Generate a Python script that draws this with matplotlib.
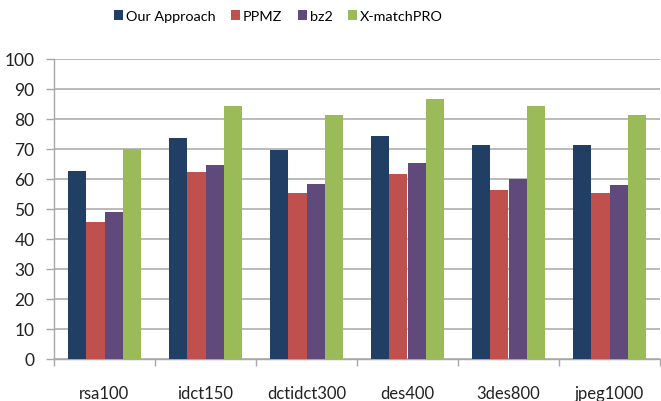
import matplotlib
matplotlib.use("Agg")
import matplotlib.pyplot as plt
import numpy as np

categories = ["rsa100", "idct150", "dctidct300", "des400", "3des800", "jpeg1000"]
series_names = ["Our Approach", "PPMZ", "bz2", "X-matchPRO"]
our_approach = [62.7, 73.8, 69.8, 74.2, 71.2, 71.4]
ppmz = [45.8, 62.2, 55.2, 61.8, 56.2, 55.2]
bz2 = [49.0, 64.7, 58.4, 65.2, 59.9, 57.9]
xmatchpro = [70.0, 84.3, 81.3, 86.8, 84.2, 81.4]
y_ticks = [0, 10, 20, 30, 40, 50, 60, 70, 80, 90, 100]

colors = ["#213F65", "#C0504D", "#604A7B", "#9BBB59"]
series = [our_approach, ppmz, bz2, xmatchpro]

plt.rcParams["font.family"] = ["Lato", "DejaVu Sans"]

W, H = 661, 402
fig = plt.figure(figsize=(W / 100, H / 100), dpi=100)
ax = fig.add_axes([54 / W, (H - 360) / H, (660 - 54) / W, 300 / H])

x = np.arange(len(categories))
bar_w = 0.182
offsets = (np.arange(4) - 1.5) * bar_w
for vals, name, c, off in zip(series, series_names, colors, offsets):
    ax.bar(x + off, vals, width=bar_w, color=c, label=name, zorder=3, linewidth=0)

ax.set_xlim(-0.5, len(categories) - 0.5)
ax.set_ylim(0, 100)
ax.set_yticks(y_ticks)
ax.set_yticklabels([str(t) for t in y_ticks], fontsize=12.5, color="#222222")
ax.yaxis.grid(True, color="#B4B4B4", linewidth=1.3, zorder=0)
ax.set_axisbelow(True)

# category labels centred, tick marks on the boundaries
ax.set_xticks(x)
ax.set_xticklabels(categories, fontsize=12, color="#222222")
ax.tick_params(axis="x", which="major", length=0, pad=19)
ax.set_xticks(np.arange(len(categories) + 1) - 0.5, minor=True)
ax.tick_params(axis="x", which="minor", length=5, width=1, color="#A8A8A8")
ax.tick_params(axis="y", length=6, width=1, color="#A8A8A8", pad=8)

for s in ["top", "right"]:
    ax.spines[s].set_visible(False)
for s in ["left", "bottom"]:
    ax.spines[s].set_color("#A8A8A8")
    ax.spines[s].set_linewidth(1)

fig.legend(loc="upper center", bbox_to_anchor=(0.421, 1.0), ncol=4, frameon=False,
           fontsize=10.4, handlelength=0.65, handleheight=0.65, handletextpad=0.2,
           columnspacing=1.05, borderaxespad=0.35)

fig.savefig("out.png", dpi=100)
